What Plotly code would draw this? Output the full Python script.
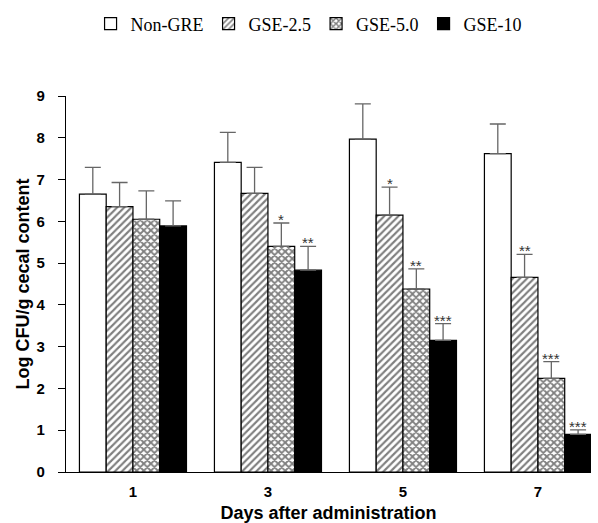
import plotly.graph_objects as go

days = ["1", "3", "5", "7"]
series_names = ["Non-GRE", "GSE-2.5", "GSE-5.0", "GSE-10"]
non_gre = [6.65, 7.41, 7.97, 7.62]
non_gre_err = [7.29, 8.13, 8.81, 8.33]
gse25 = [6.35, 6.67, 6.15, 4.66]
gse25_err = [6.93, 7.29, 6.82, 5.21]
gse50 = [6.05, 5.40, 4.38, 2.24]
gse50_err = [6.73, 5.96, 4.86, 2.64]
gse10 = [5.89, 4.83, 3.15, 0.90]
gse10_err = [6.49, 5.40, 3.55, 1.01]
non_gre_sig = ["", "", "", ""]
gse25_sig = ["", "", "*", "**"]
gse50_sig = ["", "*", "**", "***"]
gse10_sig = ["", "**", "***", "***"]

values = [non_gre, gse25, gse50, gse10]
upper = [non_gre_err, gse25_err, gse50_err, gse10_err]
sigs = [non_gre_sig, gse25_sig, gse50_sig, gse10_sig]
patterns = [
    dict(shape="", fgcolor="black", bgcolor="white"),
    dict(shape="/", fgcolor="black", bgcolor="white", size=5, solidity=0.42),
    dict(shape="x", fgcolor="black", bgcolor="white", size=5, solidity=0.6),
    dict(shape="", fgcolor="black", bgcolor="black"),
]
fills = ["white", "white", "white", "black"]

bargap = 0.207
xpos = list(range(len(days)))
n = len(series_names)
bw = (1 - bargap) / n

fig = go.Figure()
annotations = []
for i, name in enumerate(series_names):
    vals = values[i]
    errs = [u - v for u, v in zip(upper[i], vals)]
    fig.add_trace(go.Bar(
        name=name, x=xpos, y=vals,
        marker=dict(color=fills[i], line=dict(color="black", width=1.2), pattern=patterns[i]),
        error_y=dict(type="data", array=errs, arrayminus=[0] * len(errs), symmetric=False,
                     color="#666666", thickness=1.3, width=8),
    ))
    for j, s in enumerate(sigs[i]):
        if s:
            annotations.append(dict(
                x=xpos[j] + (i - (n - 1) / 2) * bw, y=upper[i][j], xref="x", yref="y",
                text=s, showarrow=False, yanchor="bottom", yshift=-7,
                font=dict(family="Liberation Sans, Arial", size=15, color="#333333"),
            ))

fig.update_layout(
    width=598, height=523,
    margin=dict(l=66, r=7, t=96, b=51),
    paper_bgcolor="white", plot_bgcolor="white",
    barmode="group", bargap=bargap, bargroupgap=0,
    showlegend=True,
    legend=dict(orientation="h", xref="container", yref="container",
                x=0.516, xanchor="center", y=1 - 24 / 523, yanchor="middle",
                font=dict(family="Liberation Serif, Times New Roman", size=18, color="black"),
                itemwidth=30, tracegroupgap=0),
    annotations=annotations,
    xaxis=dict(range=[-0.496, 3.393], tickvals=xpos, ticktext=days,
               showline=True, linecolor="black", linewidth=1.2, ticks="",
               showgrid=False, zeroline=False, ticklabelstandoff=6,
               tickfont=dict(family="Liberation Sans, Arial", size=15, color="black", weight="bold"),
               title=dict(text="<b>Days after administration</b>", standoff=8,
                          font=dict(family="Liberation Sans, Arial", size=18, color="black")),
               automargin=False),
    yaxis=dict(range=[0, 9], dtick=1, showline=True, linecolor="black", linewidth=1.2,
               ticks="outside", ticklen=7, tickcolor="black", tickwidth=1.2,
               showgrid=False, zeroline=False, ticklabelstandoff=10,
               tickfont=dict(family="Liberation Sans, Arial", size=15, color="black", weight="bold"),
               title=dict(text="<b>Log CFU/g cecal content</b>", standoff=2,
                          font=dict(family="Liberation Sans, Arial", size=18, color="black")),
               automargin=False),
)

fig.write_html("out.html", config={"displayModeBar": False},
               post_script="document.body.style.margin='0';document.body.style.padding='0';document.body.style.overflow='hidden';")
